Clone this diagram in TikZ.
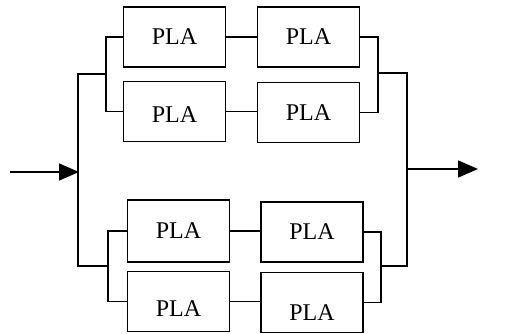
\documentclass[tikz,border=0pt]{standalone}
\usepackage{fontspec}
\setmainfont{Liberation Serif}
\usetikzlibrary{arrows.meta}
\begin{document}
\begin{tikzpicture}[x=1pt,y=-1pt,
  pla/.style={draw, line width=1.6pt, minimum width=102pt, minimum height=60pt, inner sep=0pt, font=\fontsize{24}{26}\selectfont},
  textdown/.style={text height=#1},
  wire/.style={line width=1.5pt},
  flow/.style={wire, -{Triangle[length=20pt,width=17pt]}}]
\useasboundingbox (0,0) rectangle (528,334);
% top group
\node[pla] (a1) at (174.5,37) {PLA};
\node[pla] (a2) at (308.5,37) {PLA};
\node[pla, textdown=22pt] (b1) at (174.5,111.5) {PLA};
\node[pla] (b2) at (308.5,112.5) {PLA};
% bottom group
\node[pla, minimum height=62pt] (c1) at (178.5,231) {PLA};
\node[pla] (c2) at (312,232) {PLA};
\node[pla, textdown=30.5pt] (d1) at (178.5,301.5) {PLA};
\node[pla, textdown=35.5pt] (d2) at (312,302.5) {PLA};
% junction coordinates
\coordinate (tl) at (106,74);
\coordinate (tr) at (378,73);
\coordinate (bl) at (108,266);
\coordinate (br) at (381,266);
\coordinate (mlt) at (78,74);
\coordinate (mlb) at (78,266);
\coordinate (mrt) at (407,73);
\coordinate (mrb) at (407,266);
\coordinate (inS) at (10,172);
\coordinate (inE) at (79,172);
\coordinate (outS) at (407,169);
\coordinate (outE) at (478,169);
% series connections
\draw[wire] (a1.east) -- (a1.east -| a2.west);
\draw[wire] (b1.east) -- (b1.east -| b2.west);
\draw[wire] (c1.east) -- (c1.east -| c2.west);
\draw[wire] (d1.east) -- (d1.east -| d2.west);
% brackets
\draw[wire] (a1.west) -| (tl) |- (b1.west);
\draw[wire] (a2.east) -| (tr) |- (b2.east);
\draw[wire] (c1.west) -| (bl) |- (d1.west);
\draw[wire] (c2.east) -| (br) |- (d2.east);
% main rails
\draw[wire] (tl) -- (mlt) -- (mlb) -- (bl);
\draw[wire] (tr) -- (mrt) -- (mrb) -- (br);
% arrows
\draw[flow] (inS) -- (inE);
\draw[flow] (outS) -- (outE);
\end{tikzpicture}
\end{document}
